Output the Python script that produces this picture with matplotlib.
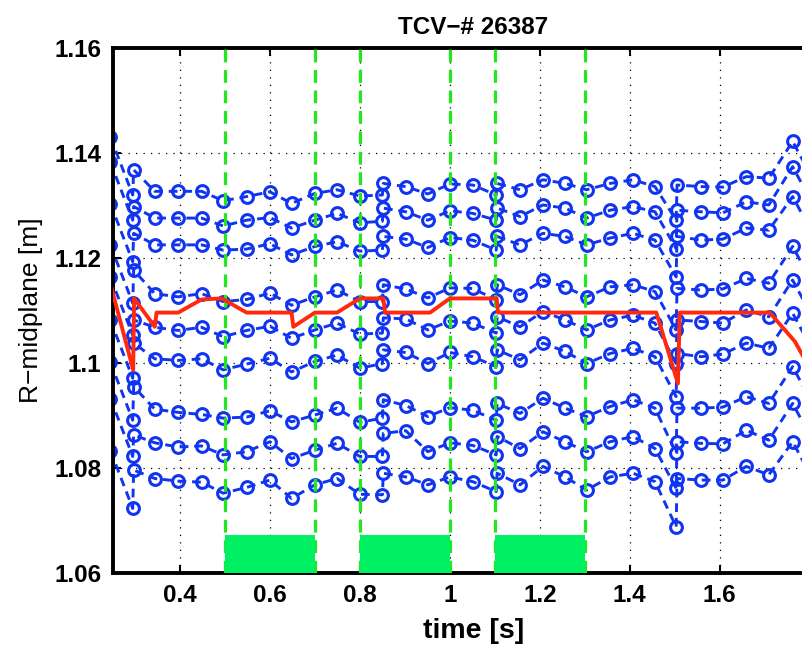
import matplotlib
matplotlib.use('Agg')
import matplotlib.pyplot as plt
from matplotlib.patches import Rectangle

plt.rcParams['font.family'] = ['Liberation Sans', 'DejaVu Sans']

# sample times (s); some columns have two samples very close in time
times = [0.2455, 0.295, 0.297, 0.344, 0.396, 0.448, 0.496, 0.548, 0.600, 0.648,
         0.700, 0.749, 0.800, 0.850, 0.852, 0.902, 0.951, 1.000, 1.051, 1.103,
         1.105, 1.156, 1.207, 1.256, 1.304, 1.356, 1.407, 1.456, 1.503, 1.505,
         1.559, 1.607, 1.659, 1.709, 1.762, 1.812]

ch1 = [1.1430, 1.1320, 1.1368, 1.1327, 1.1327, 1.1327, 1.1309, 1.1317, 1.1326, 1.1304,
       1.1323, 1.1330, 1.1318, 1.1320, 1.1342, 1.1336, 1.1322, 1.1341, 1.1339, 1.1320,
       1.1342, 1.1330, 1.1349, 1.1342, 1.1330, 1.1342, 1.1349, 1.1336, 1.1272, 1.1339,
       1.1336, 1.1335, 1.1355, 1.1352, 1.1422, 1.1342]
ch2 = [1.1382, 1.1272, 1.1298, 1.1276, 1.1276, 1.1276, 1.1261, 1.1272, 1.1277, 1.1257,
       1.1272, 1.1285, 1.1267, 1.1270, 1.1295, 1.1288, 1.1272, 1.1290, 1.1285, 1.1272,
       1.1295, 1.1279, 1.1301, 1.1295, 1.1276, 1.1291, 1.1298, 1.1288, 1.1218, 1.1291,
       1.1288, 1.1286, 1.1307, 1.1301, 1.1374, 1.1294]
ch3 = [1.1303, 1.1193, 1.1247, 1.1225, 1.1225, 1.1225, 1.1215, 1.1217, 1.1227, 1.1206,
       1.1222, 1.1231, 1.1213, 1.1215, 1.1241, 1.1236, 1.1220, 1.1239, 1.1234, 1.1215,
       1.1241, 1.1225, 1.1247, 1.1241, 1.1225, 1.1238, 1.1247, 1.1234, 1.1164, 1.1241,
       1.1234, 1.1236, 1.1257, 1.1253, 1.1317, 1.1237]
ch4 = [1.1224, 1.1114, 1.1177, 1.1132, 1.1126, 1.1132, 1.1117, 1.1121, 1.1133, 1.1110,
       1.1126, 1.1139, 1.1117, 1.1117, 1.1149, 1.1141, 1.1124, 1.1143, 1.1142, 1.1120,
       1.1149, 1.1130, 1.1158, 1.1145, 1.1126, 1.1145, 1.1149, 1.1136, 1.1063, 1.1142,
       1.1139, 1.1141, 1.1161, 1.1152, 1.1222, 1.1142]
ch5 = [1.1163, 1.1053, 1.1082, 1.1068, 1.1062, 1.1068, 1.1050, 1.1062, 1.1070, 1.1047,
       1.1063, 1.1076, 1.1055, 1.1057, 1.1086, 1.1084, 1.1063, 1.1080, 1.1076, 1.1057,
       1.1088, 1.1069, 1.1098, 1.1082, 1.1063, 1.1082, 1.1091, 1.1076, 1.0999, 1.1082,
       1.1079, 1.1076, 1.1101, 1.1088, 1.1158, 1.1078]
ch6 = [1.1081, 1.0971, 1.1038, 1.1008, 1.1005, 1.1008, 1.0987, 1.0998, 1.1009, 1.0983,
       1.1003, 1.1015, 1.0990, 1.0999, 1.1025, 1.1020, 1.0999, 1.1020, 1.1012, 1.0993,
       1.1025, 1.1006, 1.1038, 1.1022, 1.0999, 1.1018, 1.1028, 1.1012, 1.0936, 1.1018,
       1.1012, 1.1017, 1.1038, 1.1028, 1.1095, 1.1015]
ch7 = [1.1001, 1.0891, 1.0955, 1.0912, 1.0906, 1.0902, 1.0895, 1.0897, 1.0909, 1.0888,
       1.0901, 1.0914, 1.0887, 1.0895, 1.0930, 1.0919, 1.0898, 1.0915, 1.0910, 1.0891,
       1.0923, 1.0904, 1.0933, 1.0914, 1.0898, 1.0917, 1.0930, 1.0914, 1.0828, 1.0914,
       1.0914, 1.0916, 1.0936, 1.0923, 1.0993, 1.0913]
ch8 = [1.0932, 1.0822, 1.0863, 1.0848, 1.0840, 1.0842, 1.0825, 1.0831, 1.0850, 1.0818,
       1.0834, 1.0847, 1.0822, 1.0822, 1.0866, 1.0871, 1.0831, 1.0848, 1.0843, 1.0825,
       1.0860, 1.0837, 1.0869, 1.0850, 1.0831, 1.0850, 1.0860, 1.0837, 1.0761, 1.0850,
       1.0847, 1.0846, 1.0872, 1.0853, 1.0923, 1.0843]
ch9 = [1.0833, 1.0723, 1.0796, 1.0780, 1.0775, 1.0773, 1.0752, 1.0763, 1.0777, 1.0742,
       1.0768, 1.0780, 1.0750, 1.0749, 1.0790, 1.0783, 1.0768, 1.0783, 1.0774, 1.0755,
       1.0790, 1.0768, 1.0803, 1.0783, 1.0758, 1.0783, 1.0790, 1.0774, 1.0688, 1.0780,
       1.0777, 1.0777, 1.0803, 1.0787, 1.0850, 1.0770]
channels = [ch1, ch2, ch3, ch4, ch5, ch6, ch7, ch8, ch9]

# red reference trace
red_t = [0.248, 0.296, 0.298, 0.344, 0.348, 0.396, 0.448, 0.493, 0.548, 0.648,
         0.652, 0.700, 0.749, 0.800, 0.852, 0.856, 0.956, 1.000, 1.104, 1.107,
         1.459, 1.507, 1.511, 1.711, 1.767, 1.800]
red_r = [1.1142, 1.0987, 1.1123, 1.1069, 1.1096, 1.1096, 1.1121, 1.1123, 1.1096, 1.1096,
         1.1069, 1.1096, 1.1096, 1.1123, 1.1123, 1.1096, 1.1096, 1.1123, 1.1123, 1.1096,
         1.1096, 1.0961, 1.1096, 1.1096, 1.1041, 1.0990]

# heating windows
win_on = [0.5, 0.8, 1.1]
win_off = [0.7, 1.0, 1.3]
win_top = 1.0672

xticks = [0.4, 0.6, 0.8, 1.0, 1.2, 1.4, 1.6]
xticklabels = ['0.4', '0.6', '0.8', '1', '1.2', '1.4', '1.6']
yticks = [1.06, 1.08, 1.10, 1.12, 1.14, 1.16]
yticklabels = ['1.06', '1.08', '1.1', '1.12', '1.14', '1.16']

blue = '#1034f0'
green_line = '#22e61e'
green_box = '#00f064'
red = '#ff2a0e'

fig = plt.figure(figsize=(8.03, 6.51), dpi=100)
ax = fig.add_axes([0.1401, 0.1198, 0.8991, 0.8065])

for ch in channels:
    ax.plot(times, ch, linestyle=(0, (3.0, 2.0)), color=blue, lw=2.1,
            marker='o', ms=8.5, mfc='none', mec=blue, mew=2.2, zorder=2)

for a, b in zip(win_on, win_off):
    for x in (a, b):
        ax.axvline(x, color=green_line, lw=2.3, linestyle=(0, (4.0, 2.4)), zorder=3)
    ax.add_patch(Rectangle((a, 1.06), b - a, win_top - 1.06, facecolor=green_box,
                           edgecolor='none', zorder=4))

ax.plot(red_t, red_r, color=red, lw=2.8, zorder=5)

ax.set_xlim(0.25, 1.855)
ax.set_ylim(1.06, 1.16)
ax.set_xticks(xticks)
ax.set_xticklabels(xticklabels, fontweight='bold', fontsize=17.5)
ax.set_yticks(yticks)
ax.set_yticklabels(yticklabels, fontweight='bold', fontsize=17.5)
ax.grid(True, color='black', linestyle=(0, (1, 5)), lw=0.9)
ax.set_axisbelow(True)
ax.tick_params(direction='in', length=6, width=1.5, top=True, right=True, pad=8)
for s in ax.spines.values():
    s.set_linewidth(2.8)

ax.set_xlabel('time [s]', fontweight='bold', fontsize=20.5, labelpad=8)
ax.set_ylabel('R\u2212midplane [m]', fontsize=19, labelpad=8)
ax.set_title('TCV\u2212# 26387', fontweight='bold', fontsize=17.5, pad=10)

fig.savefig('out.png', dpi=100)
